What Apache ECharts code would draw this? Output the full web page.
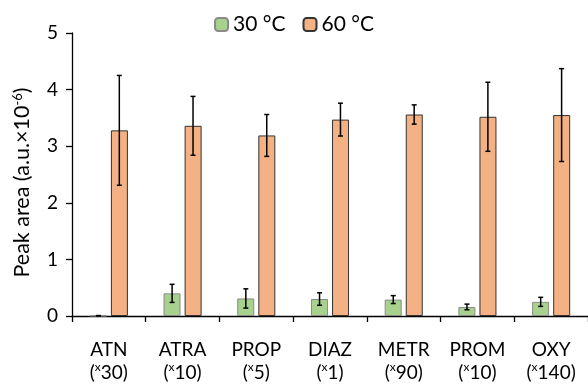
<!DOCTYPE html>
<html>
<head>
<meta charset="utf-8">
<script src="https://cdn.jsdelivr.net/npm/echarts@6/dist/echarts.min.js"></script>
<style>
  html, body { margin: 0; padding: 0; background: #fff; }
  #main { width: 588px; height: 387px; }
</style>
</head>
<body>
<div id="main"></div>
<script>
const categories = ['ATN', 'ATRA', 'PROP', 'DIAZ', 'METR', 'PROM', 'OXY']
const factors = ['30', '10', '5', '1', '90', '10', '140']

// peak area (a.u. x10^-6) and error (±)
const values30 = [0.005, 0.40, 0.31, 0.30, 0.29, 0.16, 0.25]
const errors30 = [0.003, 0.16, 0.17, 0.11, 0.07, 0.05, 0.08]
const values60 = [3.28, 3.36, 3.19, 3.47, 3.56, 3.52, 3.55]
const errors60 = [0.97, 0.52, 0.37, 0.29, 0.17, 0.61, 0.82]

const yTicks = [0, 1, 2, 3, 4, 5]

const FONT = 'Lato'

const chart = echarts.init(document.getElementById('main'), null, { renderer: 'canvas' })

// error bar series, shifted onto its bar inside the category
function errorSeries(name, values, errors, offset) {
  const data = values.map((v, i) => [i, v - errors[i], v + errors[i]])
  return {
    name: name + ' err',
    type: 'custom',
    z: 10,
    silent: true,
    renderItem: function (params, api) {
      const idx = api.value(0)
      const lo = api.coord([idx, api.value(1)])
      const hi = api.coord([idx, api.value(2)])
      const bw = api.size([1, 0])[0]
      const x = lo[0] + offset * bw
      const cap = 2.5
      const style = { stroke: '#000', lineWidth: 1.5 }
      return {
        type: 'group',
        children: [
          { type: 'line', shape: { x1: x, y1: lo[1], x2: x, y2: hi[1] }, style: style },
          { type: 'line', shape: { x1: x - cap, y1: lo[1], x2: x + cap, y2: lo[1] }, style: style },
          { type: 'line', shape: { x1: x - cap, y1: hi[1], x2: x + cap, y2: hi[1] }, style: style }
        ]
      }
    },
    encode: { x: 0, y: [1, 2] },
    data: data
  }
}

const option = {
  animation: false,
  textStyle: { fontFamily: FONT },
  legend: {
    top: 9,
    left: 'center',
    itemWidth: 13,
    itemHeight: 13,
    itemGap: 17,
    textStyle: { fontFamily: FONT, fontSize: 21, color: '#000' },
    data: ['30 °C', '60 °C']
  },
  grid: {
    left: 72,
    right: -2,
    top: 33,
    bottom: 71
  },
  xAxis: {
    type: 'category',
    data: categories,
    axisLine: { lineStyle: { color: '#000', width: 1.3 } },
    axisTick: { show: true, length: 6, lineStyle: { color: '#000', width: 1.3 } },
    axisLabel: {
      interval: 0,
      margin: 22,
      color: '#000',
      fontFamily: FONT,
      fontSize: 19,
      lineHeight: 23,
      formatter: function (v, i) {
        return v + '\n({s|x}' + factors[i] + ')'
      },
      rich: {
        s: { fontSize: 12, verticalAlign: 'top', padding: [0, 0, 8, 0], fontFamily: FONT, color: '#000' }
      }
    }
  },
  yAxis: {
    type: 'value',
    min: 0,
    max: 5,
    interval: 1,
    name: 'Peak area (a.u.×10{sup|-6})',
    nameLocation: 'middle',
    nameGap: 38,
    nameTextStyle: {
      fontFamily: FONT,
      fontSize: 21.5,
      color: '#000',
      padding: [0, 16, 0, 0],
      rich: {
        sup: { fontSize: 13, verticalAlign: 'top', padding: [0, 0, 10, 0], fontFamily: FONT, color: '#000' }
      }
    },
    axisLine: { show: true, lineStyle: { color: '#000', width: 1.3 } },
    axisTick: { show: true, length: 6, lineStyle: { color: '#000', width: 1.3 } },
    splitLine: { show: false },
    axisLabel: {
      margin: 14,
      color: '#000',
      fontFamily: FONT,
      fontSize: 19,
      formatter: function (v) { return yTicks.indexOf(v) >= 0 ? String(v) : '' }
    }
  },
  series: [
    {
      name: '30 °C',
      type: 'bar',
      barWidth: 17,
      barGap: '24%',
      data: values30,
      itemStyle: { color: '#A9D18E', borderColor: '#8a8a8a', borderWidth: 1 }
    },
    {
      name: '60 °C',
      type: 'bar',
      barWidth: 17,
      barGap: '24%',
      data: values60,
      itemStyle: { color: '#F4B183', borderColor: '#333', borderWidth: 1 }
    },
    errorSeries('30 °C', values30, errors30, -10.5 / 74),
    errorSeries('60 °C', values60, errors60, 10.5 / 74)
  ]
}

chart.setOption(option)
</script>
</body>
</html>
